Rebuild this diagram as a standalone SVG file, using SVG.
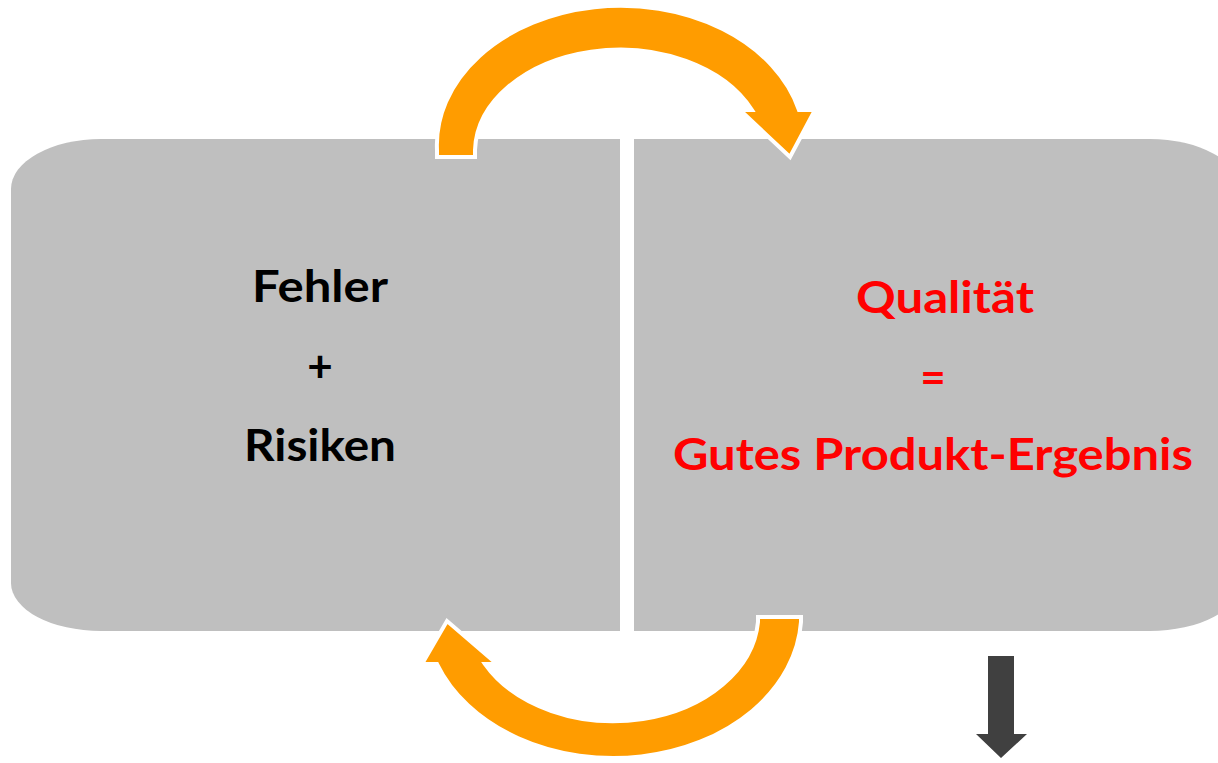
<svg xmlns="http://www.w3.org/2000/svg" width="1218" height="763" viewBox="0 0 1218 763">
<style>
.box{fill:#BFBFBF}
.t{font-family:Lato,"Liberation Sans",sans-serif;font-weight:bold;font-size:44px;text-anchor:middle}
.blk{fill:#000}
.red{fill:#FF0000}
.arc{fill:#FF9C00;stroke:#FFFFFF;stroke-width:4;stroke-linejoin:miter}
.down{fill:#404040}
</style>
<rect width="1218" height="763" fill="#FFFFFF"/>
<g id="node-fehler">
<path class="box" d="M101,139 L620,139 L620,631 L101,631 A90,48 0 0 1 11,583 L11,189 A90,50 0 0 1 101,139 Z"/>
<text class="t blk" x="320" y="302" textLength="136" lengthAdjust="spacingAndGlyphs">Fehler</text>
<text class="t blk" x="320" y="382">+</text>
<text class="t blk" x="320" y="461" textLength="152" lengthAdjust="spacingAndGlyphs">Risiken</text>
</g>
<g id="node-qualitaet">
<path class="box" d="M634,139 L1150,139 A90,50 0 0 1 1240,189 L1240,583 A90,48 0 0 1 1150,631 L634,631 Z"/>
<text class="t red" x="945" y="313" textLength="178" lengthAdjust="spacingAndGlyphs">Qualität</text>
<text class="t red" x="933" y="393">=</text>
<text class="t red" x="933" y="470" textLength="520" lengthAdjust="spacingAndGlyphs">Gutes Produkt-Ergebnis</text>
</g>
<g id="connectors">
<path class="arc" d="M437,157 L437,150 A184,139 0 0 1 799,110 L815,110 L790,157 L740,110 L752,110 A145,103 0 0 0 475,150 L475,157 Z"/>
<path class="arc" d="M801,617 L801,622 A188,144 0 0 1 437,664 L422,664 L447,621 L497,664 L485,664 A145,107 0 0 0 758,622 L758,617 Z"/>
</g>
<g id="down-arrow">
<path class="down" d="M988,656 L1014,656 L1014,734 L1027,734 L1001,758 L976,734 L988,734 Z"/>
</g>
</svg>
